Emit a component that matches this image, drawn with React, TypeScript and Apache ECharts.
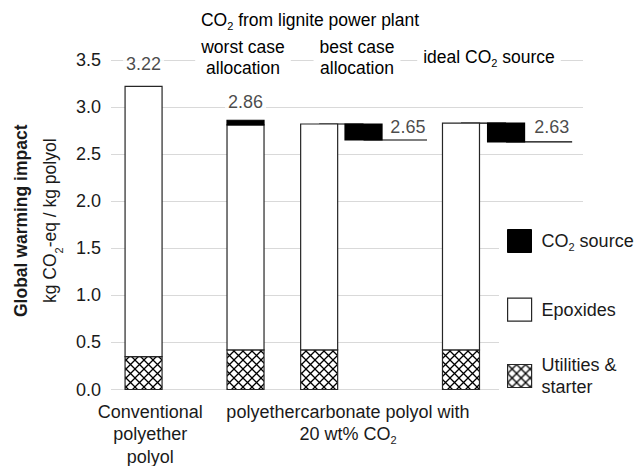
import React, { useEffect, useRef } from 'react';
import * as echarts from 'echarts';

// ---- data (kg CO2-eq / kg polyol) ----
const barNames = ['Conventional polyether polyol', 'worst case allocation', 'best case allocation', 'ideal CO2 source'];
const utilities = [0.35, 0.42, 0.42, 0.42];
const epoxides = [2.87, 2.39, 2.40, 2.41];
const co2Source = [0, 0.05, -0.17, -0.20];
const totals = [3.22, 2.86, 2.65, 2.63];

// positions along a hidden 0–100 x axis
const mainBarX = [6.9, 28.5, 44.1, 74.15];
const co2BarX = [null, 28.5, 53.5, 83.7];
const creditLineEnd = [null, null, 66.95, 97.7];
const totalLabelX = [6.9, 28.5, 62.9, 93.4];
const totalLabelGap = [12, 8, 3, 5];
const BAR_W = 7.84;

const xLabelPos = [8.3, 50.2];
const xLabels = [
  '{n|Conventional}\n{n|polyether}\n{n|polyol}',
  '{n|polyethercarbonate polyol with}\n{n|20 wt% CO}{s|2}',
];

const FONT = '"Liberation Sans", Arial, Helvetica, sans-serif';
const TXT = '#1a1a1a';
const EDGE = '#262626';

const richFor = (size: number, lh: number) => ({
  n: { fontSize: size, lineHeight: lh, fontFamily: FONT, color: TXT },
  b: { fontSize: size, lineHeight: lh, fontFamily: FONT, color: TXT, fontWeight: 'bold' },
  s: { fontSize: 11, lineHeight: lh - 10, fontFamily: FONT, color: TXT, verticalAlign: 'bottom' },
});

function makeHatch() {
  const c = document.createElement('canvas');
  c.width = 9;
  c.height = 9;
  const ctx = c.getContext('2d')!;
  ctx.fillStyle = '#fff';
  ctx.fillRect(0, 0, 9, 9);
  ctx.strokeStyle = '#000';
  ctx.lineWidth = 1.3;
  ctx.beginPath();
  ctx.moveTo(-1, -1);
  ctx.lineTo(10, 10);
  ctx.moveTo(10, -1);
  ctx.lineTo(-1, 10);
  ctx.stroke();
  return c;
}

export default function App() {
  const ref = useRef<HTMLDivElement>(null);
  useEffect(() => {
    document.body.style.margin = '0';
    const chart = echarts.init(ref.current!, null, { renderer: 'svg' });
    const hatch = { image: makeHatch(), repeat: 'repeat' } as any;

    const base = utilities.map((u, i) => u + epoxides[i]);
    const utilData = mainBarX.map((x, i) => [x, 0, utilities[i]]);
    const epoxData = mainBarX.map((x, i) => [x, utilities[i], base[i]]);
    const co2Data: number[][] = [];
    co2BarX.forEach((x, i) => {
      if (x == null) return;
      const d = co2Source[i];
      co2Data.push(d >= 0 ? [x, base[i], base[i] + d] : [x, base[i] + d, base[i]]);
    });

    const rectItem = (fill: any, stroke: string) => (params: any, api: any) => {
      const x = api.value(0);
      const p0 = api.coord([x - BAR_W / 2, api.value(1)]);
      const p1 = api.coord([x + BAR_W / 2, api.value(2)]);
      return {
        type: 'rect',
        shape: { x: p0[0], y: p1[1], width: p1[0] - p0[0], height: p0[1] - p1[1] },
        style: { fill, stroke, lineWidth: 1.2 },
      };
    };

    const lineSeries: any[] = [];
    co2BarX.forEach((x, i) => {
      if (x == null || co2Source[i] >= 0) return;
      lineSeries.push({
        type: 'line', silent: true, symbol: 'none', z: 1,
        lineStyle: { color: '#000', width: 1.2 },
        data: [[mainBarX[i], base[i]], [x, base[i]]],
      });
      lineSeries.push({
        type: 'line', silent: true, symbol: 'none', z: 1,
        lineStyle: { color: '#000', width: 1.2 },
        data: [[x, totals[i]], [creditLineEnd[i], totals[i]]],
      });
    });

    const legendBase = {
      orient: 'vertical', left: 507, icon: 'rect', itemWidth: 24, itemHeight: 23,
      selectedMode: false, padding: 0,
      textStyle: { fontSize: 18, fontFamily: FONT, color: TXT, padding: [0, 0, 0, 5], rich: richFor(18, 22) },
    };

    chart.setOption({
      animation: false,
      grid: { left: 111, right: 55, top: 60, bottom: 76.5, containLabel: false, outerBoundsMode: 'none' },
      xAxis: {
        type: 'value', min: 0, max: 100,
        axisLine: { show: false }, axisTick: { show: false }, splitLine: { show: false },
        axisLabel: {
          customValues: xLabelPos,
          margin: 11,
          formatter: (v: number) => (v < 30 ? xLabels[0] : xLabels[1]),
          rich: richFor(18, 22.5),
        },
      },
      yAxis: {
        type: 'value', min: 0, max: 3.5, interval: 0.5,
        axisLine: { show: false }, axisTick: { show: false },
        splitLine: { lineStyle: { color: '#d9d9d9', width: 1.2 } },
        axisLabel: { fontSize: 18, fontFamily: FONT, color: TXT, margin: 10, formatter: (v: number) => v.toFixed(1) },
        name: '{b|Global warming impact}\n{n|kg CO}{s|2}{n|-eq / kg polyol}',
        nameLocation: 'middle', nameRotate: 90, nameGap: 46.5,
        nameTextStyle: { rich: richFor(17.5, 29), padding: [0, 0, 0, 8] },
      },
      legend: [
        { ...legendBase, top: 229, data: [{ name: 'CO2 source', itemStyle: { color: '#000', borderColor: '#000', borderWidth: 1 } }], formatter: () => '{n|CO}{s|2}{n| source}' },
        { ...legendBase, top: 297.5, data: [{ name: 'Epoxides', itemStyle: { color: '#fff', borderColor: EDGE, borderWidth: 1.2 } }], formatter: () => '{n|Epoxides}' },
        { ...legendBase, top: 356, data: [{ name: 'Utilities & starter', itemStyle: { color: hatch, borderColor: EDGE, borderWidth: 1.2 } }], formatter: () => '{n|Utilities &}\n{n|starter}' },
      ],
      graphic: [
        { type: 'rect', silent: true, z: 1, shape: { x: 499, y: 212, width: 139, height: 200 }, style: { fill: '#fff' } },
        { type: 'text', z: 5, x: 310, y: 20, style: { text: '{n|CO}{s|2}{n| from lignite power plant}', rich: richFor(17.5, 22), align: 'center', verticalAlign: 'middle' } },
        { type: 'text', z: 5, x: 243, y: 57.5, style: { text: '{n|worst case}\n{n|allocation}', rich: richFor(17.5, 21), align: 'center', verticalAlign: 'middle', backgroundColor: '#fff', padding: [0, 6] } },
        { type: 'text', z: 5, x: 357, y: 57.5, style: { text: '{n|best case}\n{n|allocation}', rich: richFor(17.5, 21), align: 'center', verticalAlign: 'middle', backgroundColor: '#fff', padding: [0, 6] } },
        { type: 'text', z: 5, x: 489, y: 57, style: { text: '{n|ideal CO}{s|2}{n| source}', rich: richFor(17.5, 22), align: 'center', verticalAlign: 'middle', backgroundColor: '#fff', padding: [0, 6] } },
      ],
      series: [
        ...lineSeries,
        {
          name: 'Utilities & starter', type: 'custom', z: 2, silent: true,
          itemStyle: { color: hatch, borderColor: EDGE, borderWidth: 1.2 },
          encode: { x: 0, y: [1, 2] },
          renderItem: rectItem(hatch, EDGE), data: utilData,
        },
        {
          name: 'Epoxides', type: 'custom', z: 2, silent: true,
          itemStyle: { color: '#fff', borderColor: EDGE, borderWidth: 1.2 },
          encode: { x: 0, y: [1, 2] },
          renderItem: rectItem('#fff', EDGE), data: epoxData,
        },
        {
          name: 'CO2 source', type: 'custom', z: 3, silent: true,
          itemStyle: { color: '#000', borderColor: '#000', borderWidth: 1 },
          encode: { x: 0, y: [1, 2] },
          renderItem: rectItem('#000', '#000'), data: co2Data,
        },
        {
          type: 'scatter', silent: true, symbolSize: 0, z: 4,
          data: totals.map((t, i) => ({
            value: [totalLabelX[i], t],
            label: { distance: totalLabelGap[i] },
          })),
          label: {
            show: true, position: 'top', fontSize: 18, fontFamily: FONT, color: TXT,
            backgroundColor: '#fff', padding: [1, 3],
            formatter: (p: any) => p.value[1].toFixed(2),
          },
        },
      ],
    });
    return () => chart.dispose();
  }, []);
  return <div ref={ref} style={{ width: 638, height: 466 }} />;
}
